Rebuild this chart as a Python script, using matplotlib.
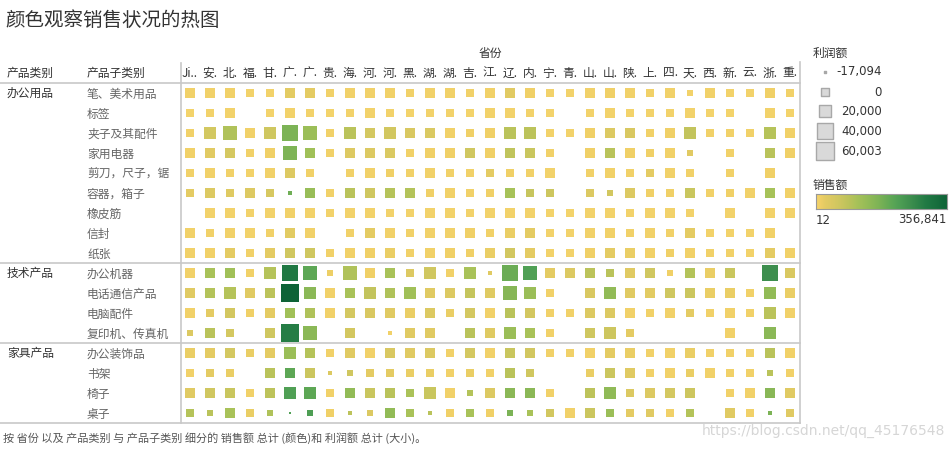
import numpy as np
import matplotlib
matplotlib.use("Agg")
import matplotlib.pyplot as plt
from matplotlib.colors import LinearSegmentedColormap, Normalize
from matplotlib.transforms import blended_transform_factory

plt.rcParams['font.family'] = ['Noto Sans CJK SC', 'DejaVu Sans']

# ─────────────────────────────────────────────
#  data  (profit / sales in thousands, None = no record)
# ─────────────────────────────────────────────
provinces = ["Ji..", "安.", "北.", "福.", "甘.", "广.", "广.", "贵.", "海.", "河.", "河.",
             "黑.", "湖.", "湖.", "吉.", "江.", "辽.", "内.", "宁.", "青.", "山.", "山.",
             "陕.", "上.", "四.", "天.", "西.", "新.", "云.", "浙.", "重."]
categories = ["办公用品", "技术产品", "家具产品"]
category_rows = [0, 9, 13]
subcategories = ["笔、美术用品", "标签", "夹子及其配件", "家用电器", "剪刀，尺子，锯",
                 "容器，箱子", "橡皮筋", "信封", "纸张",
                 "办公机器", "电话通信产品", "电脑配件", "复印机、传真机",
                 "办公装饰品", "书架", "椅子", "桌子"]

N = None
profit_k = [
    [1.5, 1.8, 1.6, 1.2, 1.4, 2.0, 1.9, 1.3, 1.5, 1.6, 1.7, 1.4, 1.5, 1.6, 1.3, 1.8, 2.1, 1.7, 1.2, 1.1, 1.6, 1.9, 1.5, 1.4, 1.6, -7.0, 1.5, 1.3, 1.2, 1.9, 1.4],
    [1.2, 1.4, 1.5, N, 1.1, 1.6, 1.3, 1.2, 1.4, 1.5, 1.3, 1.2, 1.4, 1.3, 1.2, 1.6, 1.5, 1.4, 1.1, N, 1.3, 1.5, 1.2, 1.4, 1.3, 1.5, 1.1, 1.2, N, 1.6, 1.2],
    [-3.0, 13.0, 28.0, 1.5, 16.0, 43.0, 28.0, -3.2, 22.0, 11.0, 11.2, 10.8, 11.0, 1.6, 1.4, 1.5, 22.0, 21.5, 1.3, 1.2, 1.5, 6.0, 6.2, 1.4, 1.6, 16.0, 1.3, 1.4, 1.2, 16.2, 1.5],
    [1.5, 6.0, 6.1, 1.4, 1.6, 28.0, 11.0, 1.3, 6.0, 4.0, 1.5, 1.4, 1.6, 1.5, 8.0, 1.5, 4.0, 1.7, 1.3, N, 1.5, 11.0, 1.6, 1.4, 1.5, -7.0, N, 1.3, N, 11.0, 1.5],
    [-3.0, 1.5, -3.1, 1.4, 1.5, 1.6, -3.0, N, 1.4, 1.5, -3.2, 1.3, 1.5, 1.4, 1.3, -3.0, -3.1, -3.3, 1.5, N, -3.0, 1.6, 1.4, -3.0, 1.5, -3.2, N, 1.4, N, 1.5, N],
    [-3.0, 1.5, 1.4, 1.6, -3.1, -13.0, 6.0, -3.0, 6.2, 1.5, 6.0, 5.8, 1.4, 1.5, -3.0, -3.2, 6.1, -3.0, -3.1, N, -3.0, -7.0, 1.5, -3.1, -3.0, 1.6, 1.4, -3.0, 1.5, 6.0, 1.5],
    [N, 1.5, 1.6, 1.4, 1.5, 1.7, 1.5, 1.4, 1.6, 1.5, 1.4, 1.3, 1.5, 1.6, 1.4, 1.5, 1.6, 1.5, 1.4, 1.3, 1.5, 1.6, 1.4, 1.5, 1.5, 1.4, N, 1.5, N, 1.6, 1.5],
    [1.5, 1.4, 1.6, 1.5, 1.3, 6.0, 1.5, N, 1.4, 6.2, 1.5, 1.4, 1.6, 1.5, 1.5, 1.4, 1.6, 6.0, 1.3, 1.2, 1.5, 1.6, 1.4, 1.5, 1.4, 6.1, 1.3, 1.4, 1.2, 1.6, N],
    [1.5, 1.6, 1.7, 1.4, 1.6, 1.8, 6.0, 1.4, 1.5, 1.6, 1.5, -3.0, 1.6, 1.5, 1.4, 1.6, 6.2, 1.7, 1.3, -3.1, 1.5, 1.7, 1.6, 1.5, 1.4, 1.5, 1.3, 1.4, 1.2, 1.8, 1.5],
    [1.5, 6.0, 11.0, 1.4, 11.2, 45.0, 28.0, -7.0, 28.5, 1.5, 11.0, -3.0, 16.0, -3.2, 16.2, -15.0, 43.0, 36.0, 1.6, 6.0, 6.1, -3.0, 1.5, 11.0, -7.2, 6.0, 1.5, 6.2, N, 43.5, 11.0],
    [6.0, 11.0, 11.2, 6.1, 11.0, 60.003, 22.0, 1.5, 6.0, 11.1, 11.0, 16.0, 6.2, 6.0, 6.1, 6.0, 28.0, 16.1, 1.4, N, 6.0, 22.0, 1.6, 1.5, 6.0, 11.0, 1.5, 1.6, -3.0, 16.0, 1.5],
    [1.5, -3.0, 6.0, 1.4, 1.6, 11.0, 6.2, 1.5, 6.0, 6.1, 1.6, 1.5, 6.0, 1.4, 1.7, 1.5, 11.0, 6.0, 1.4, 1.3, 6.1, 6.0, 1.5, 1.4, 1.6, -3.0, 1.4, 1.5, 1.3, 11.2, 1.5],
    [-7.0, 11.0, -3.0, N, 6.0, 55.0, 28.0, N, 6.1, N, -13.0, 1.6, 1.5, N, 6.0, 6.2, 16.0, 6.0, -3.1, N, 6.0, 16.2, -3.0, N, N, N, N, 1.5, N, 16.0, N],
    [1.5, 1.6, 6.0, 1.4, 1.5, 16.0, 6.1, 1.4, 1.6, 1.5, 11.0, 1.6, 6.0, 1.4, 6.2, 1.5, 6.0, 6.1, 1.4, 1.3, 1.5, 1.6, 1.5, 1.4, 1.5, 1.6, 1.3, 1.4, 1.2, 6.0, 1.5],
    [-3.0, -3.1, -3.0, N, 1.5, 6.0, 1.6, -15.0, -10.0, -3.0, -3.2, -3.0, -3.1, -3.0, -3.2, -3.0, 1.5, -3.0, N, N, -3.1, 6.0, 1.5, 1.4, 1.6, -3.0, 1.5, -3.1, -3.0, -7.0, -3.0],
    [1.5, 6.0, 11.0, -3.0, 6.1, 16.0, 16.2, 1.4, 11.0, 6.0, 6.2, -3.0, 11.1, 1.5, -7.0, 6.0, 1.6, 1.5, 1.4, N, 6.0, 16.0, -3.1, 1.5, 1.6, 6.0, N, 1.4, 1.5, 6.1, 1.5],
    [-3.0, -7.0, 1.5, 1.4, -10.0, -17.094, -10.2, -3.0, -13.0, -7.1, 6.0, -3.1, -15.0, -3.0, -3.2, -3.0, -7.0, -7.2, -3.0, 1.5, 1.6, -3.1, -3.0, -3.2, -3.0, -3.1, N, 1.5, -3.0, -13.0, 1.4],
]
sales_k = [
    [6, 7, 9, 5, 5, 26, 24, 6, 7, 8, 9, 7, 8, 9, 6, 9, 30, 11, 4, 3, 8, 10, 7, 9, 8, 5, 6, 5, 4, 12, 7],
    [2, 3, 4, N, 1, 5, 3, 2, 3, 4, 3, 2, 4, 3, 2, 5, 4, 3, 0.012, N, 3, 4, 2, 4, 3, 4, 1, 2, N, 5, 2],
    [8, 55, 103, 8, 62, 172, 130, 6, 92, 53, 58, 46, 42, 9, 10, 11, 92, 90, 5, 4, 10, 40, 45, 9, 10, 80, 8, 7, 6, 95, 9],
    [9, 30, 52, 8, 10, 170, 122, 8, 38, 40, 44, 9, 10, 11, 60, 10, 85, 72, 6, N, 11, 92, 12, 10, 9, 30, N, 8, N, 92, 10],
    [6, 8, 7, 5, 6, 38, 9, N, 7, 8, 10, 6, 7, 8, 6, 25, 10, 8, 4, N, 8, 9, 7, 25, 8, 6, N, 6, N, 10, N],
    [25, 40, 34, 38, 50, 185, 135, 8, 92, 62, 95, 98, 10, 9, 8, 10, 112, 75, 65, N, 40, 58, 40, 10, 10, 72, 8, 10, 8, 112, 9],
    [N, 4, 5, 3, 4, 6, 5, 3, 4, 5, 4, 3, 4, 5, 3, 4, 5, 4, 2, 2, 4, 5, 3, 4, 4, 3, N, 3, N, 5, 4],
    [6, 7, 8, 5, 6, 28, 8, N, 7, 25, 8, 6, 7, 8, 12, 9, 18, 25, 4, 3, 8, 9, 7, 8, 7, 25, 5, 5, 4, 9, N],
    [8, 9, 25, 7, 25, 60, 62, 7, 9, 10, 18, 8, 9, 10, 12, 18, 58, 25, 5, 4, 10, 25, 18, 9, 10, 9, 6, 7, 5, 25, 9],
    [8, 110, 120, 9, 97, 303, 205, 15, 103, 10, 110, 38, 60, 8, 110, 32, 190, 225, 25, 40, 90, 92, 32, 60, 10, 98, 18, 72, N, 258, 46],
    [32, 98, 97, 32, 90, 356.841, 153, 8, 110, 80, 103, 120, 32, 40, 78, 34, 160, 130, 8, N, 46, 143, 32, 28, 62, 68, 18, 18, 8, 143, 18],
    [8, 25, 56, 12, 25, 120, 103, 8, 53, 46, 32, 18, 40, 18, 53, 8, 92, 56, 7, 6, 40, 40, 8, 9, 8, 25, 7, 8, 6, 92, 8],
    [40, 92, 53, N, 62, 293, 153, N, 56, N, 8, 32, 32, N, 92, 34, 130, 110, 8, N, 62, 65, 25, N, N, N, N, 8, N, 153, N],
    [18, 25, 53, 18, 25, 130, 97, 8, 32, 8, 46, 32, 40, 8, 53, 8, 72, 58, 8, 7, 9, 25, 18, 8, 9, 18, 7, 8, 6, 92, 9],
    [8, 25, 18, N, 92, 205, 68, 40, 60, 25, 25, 18, 18, 8, 18, 8, 92, 60, N, N, 18, 68, 32, 8, 9, 18, 7, 8, 6, 92, 8],
    [32, 60, 72, 8, 88, 225, 205, 8, 143, 72, 92, 108, 72, 8, 98, 40, 153, 153, 8, N, 88, 145, 40, 40, 53, 65, N, 8, 7, 155, 32],
    [97, 92, 110, 18, 103, 225, 228, 12, 88, 40, 143, 110, 92, 12, 110, 12, 172, 110, 58, 8, 68, 130, 25, 32, 8, 98, N, 32, 8, 172, 32],
]
legend_profit = [-17094, 0, 20000, 40000, 60003]
legend_labels = ["-17,094", "0", "20,000", "40,000", "60,003"]
sales_min, sales_max = 12, 356841

# ─────────────────────────────────────────────
#  helpers
# ─────────────────────────────────────────────
W, H, DPI = 952, 449, 100
P_MIN = -17094

def marker_area(profit):
    # tableau-style: square area grows linearly with profit (px), -> points^2
    side_px = np.sqrt(4 + 0.00415 * (np.asarray(profit, dtype=float) - P_MIN))
    return (side_px * 72 / DPI) ** 2

cmap = LinearSegmentedColormap.from_list("gold_green", [
    (0.00, "#F3D36C"), (0.03, "#F0D067"), (0.07, "#E3CB63"), (0.11, "#DCC962"),
    (0.17, "#D0C760"), (0.25, "#BCC35B"), (0.31, "#A8C259"), (0.40, "#92BB57"),
    (0.48, "#7DB356"), (0.57, "#5FA855"), (0.63, "#50A055"), (0.72, "#3E8F4E"),
    (0.84, "#217A44"), (1.00, "#0E6337")])
norm = Normalize(sales_min, sales_max)

LINE = "#C8C8C8"
DARK = "#333333"
MID = "#666666"

# ─────────────────────────────────────────────
#  figure
# ─────────────────────────────────────────────
fig = plt.figure(figsize=(W / DPI, H / DPI), dpi=DPI, facecolor="white")

# pixel-coordinate overlay for frame lines, legend, captions
bg = fig.add_axes([0, 0, 1, 1])
bg.set_xlim(0, W); bg.set_ylim(H, 0); bg.axis("off")

ax = fig.add_axes([181 / W, (H - 423) / H, 619 / W, 340 / H])
ax.set_xlim(-0.45, 30.5)
ax.set_ylim(16.5, -0.5)
ax.patch.set_alpha(0)
for sp in ax.spines.values():
    sp.set_visible(False)

prof = np.array(profit_k, dtype=float) * 1000
sal = np.array(sales_k, dtype=float) * 1000
rr, cc = np.nonzero(~np.isnan(prof))
ax.scatter(cc, rr, s=marker_area(prof[rr, cc]), c=sal[rr, cc], cmap=cmap, norm=norm,
           marker="s", linewidths=0, zorder=3)

# column header
ax.xaxis.tick_top()
ax.set_xticks(range(len(provinces)))
ax.set_xticklabels(provinces, fontsize=8.5, color=DARK)
ax.tick_params(axis="x", length=0, pad=2.5)

# sub-category labels (left aligned at x=87px)
ax.set_yticks(range(len(subcategories)))
ax.set_yticklabels(subcategories, fontsize=8.5, color=MID, ha="left")
ax.tick_params(axis="y", length=0, pad=(181 - 87) * 72 / DPI)

mixed = blended_transform_factory(bg.transData, ax.transData)
for name, r in zip(categories, category_rows):
    ax.text(7, r, name, transform=mixed, fontsize=8.5, color=DARK, va="center", ha="left")

# frame lines
for yb in [-0.5, 8.5, 12.5, 16.5]:
    ax.plot([0, 800], [yb, yb], transform=mixed, color=LINE, lw=1.2, clip_on=False, zorder=1)
bg.plot([181, 181], [63, 423], color=LINE, lw=1.2)
bg.plot([800, 800], [62, 423], color=LINE, lw=1.2)

# headings
bg.text(5, 20, "颜色观察销售状况的热图", fontsize=14, color=DARK, va="center", ha="left")
bg.text(490, 53, "省份", fontsize=8.5, color=DARK, va="center", ha="center")
bg.text(7, 73, "产品类别", fontsize=8.5, color=DARK, va="center", ha="left")
bg.text(87, 73, "产品子类别", fontsize=8.5, color=DARK, va="center", ha="left")

# size legend
bg.text(813, 53, "利润额", fontsize=8.5, color=DARK, va="center", ha="left")
leg_y = [72, 92, 111, 131, 151]
bg.scatter([825] * len(legend_profit), leg_y, s=marker_area(legend_profit), marker="s",
           facecolor=["#A8A8A8"] + ["#D9D9D9"] * 4, edgecolor="#A8A8A8", linewidths=1.0)
for y, lab in zip(leg_y, legend_labels):
    bg.text(882, y, lab, fontsize=8.5, color=DARK, va="center", ha="right",
            family=["DejaVu Sans"])

# colour legend
bg.text(813, 185, "销售额", fontsize=8.5, color=DARK, va="center", ha="left")
cax = fig.add_axes([816 / W, (H - 209) / H, 131 / W, 15 / H])
cax.imshow(np.linspace(0, 1, 256).reshape(1, -1), aspect="auto", cmap=cmap)
cax.set_xticks([]); cax.set_yticks([])
for sp in cax.spines.values():
    sp.set_edgecolor("#999999")
bg.text(816, 220, f"{sales_min:,}", fontsize=8.5, color=DARK, va="center", ha="left",
        family=["DejaVu Sans"])
bg.text(947, 220, f"{sales_max:,}", fontsize=8.5, color=DARK, va="center", ha="right",
        family=["DejaVu Sans"])

# caption + watermark
bg.text(3, 438, "按 省份 以及 产品类别 与 产品子类别 细分的 销售额 总计 (颜色)和 利润额 总计 (大小)。",
        fontsize=8, color="#555555", va="center", ha="left")
bg.text(945, 431, "https://blog.csdn.net/qq_45176548", fontsize=10, color="#D6D6D6",
        va="center", ha="right", family=["DejaVu Sans"])

fig.savefig("out.png", dpi=DPI, facecolor="white")
